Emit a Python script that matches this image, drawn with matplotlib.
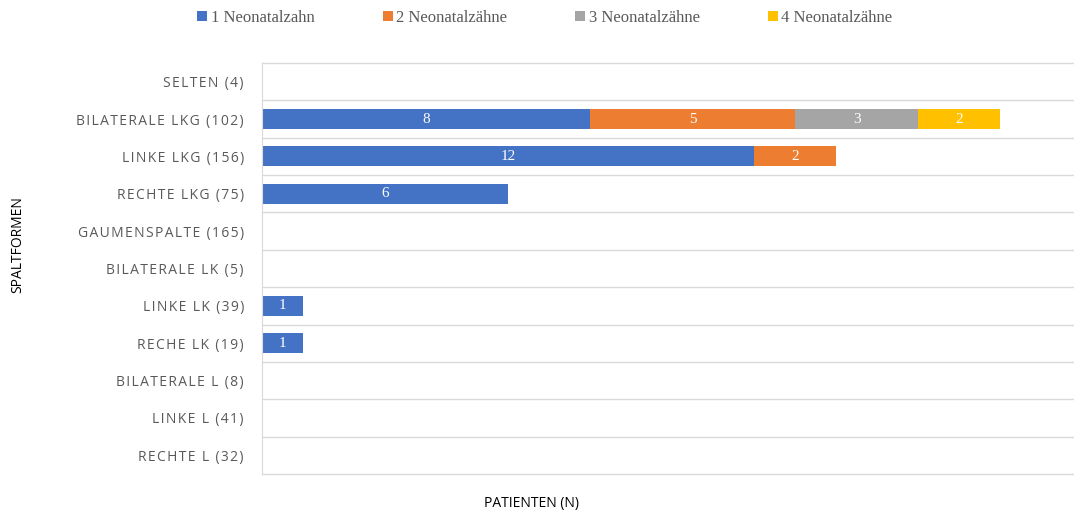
import matplotlib.pyplot as plt
import numpy as np

categories = [
    "SELTEN (4)",
    "BILATERALE LKG (102)",
    "LINKE LKG (156)",
    "RECHTE LKG (75)",
    "GAUMENSPALTE (165)",
    "BILATERALE LK (5)",
    "LINKE LK (39)",
    "RECHE LK (19)",
    "BILATERALE L (8)",
    "LINKE L (41)",
    "RECHTE L (32)",
]
series_names = ["1 Neonatalzahn", "2 Neonatalzähne", "3 Neonatalzähne", "4 Neonatalzähne"]
one_tooth = [0, 8, 12, 6, 0, 0, 1, 1, 0, 0, 0]
two_teeth = [0, 5, 2, 0, 0, 0, 0, 0, 0, 0, 0]
three_teeth = [0, 3, 0, 0, 0, 0, 0, 0, 0, 0, 0]
four_teeth = [0, 2, 0, 0, 0, 0, 0, 0, 0, 0, 0]

colors = ["#4472C4", "#ED7D31", "#A5A5A5", "#FFC000"]
serif = ["Liberation Serif", "DejaVu Serif"]
sans = ["Open Sans", "DejaVu Sans"]


def spaced(text):
    # imitate Excel's letter spacing on the category labels
    return "\u200a".join(text)


fig = plt.figure(figsize=(10.74, 5.14), dpi=100)
ax = fig.add_axes([262 / 1074, 1 - 474 / 514, 1 - 262 / 1074, 411 / 514])

y = np.arange(len(categories))
left = np.zeros(len(categories))
for name, values, color in zip(series_names, [one_tooth, two_teeth, three_teeth, four_teeth], colors):
    values = np.array(values, dtype=float)
    bars = ax.barh(y, values, left=left, height=0.54, color=color, label=name)
    labels = [str(int(v)) if v > 0 else "" for v in values]
    ax.bar_label(bars, labels=labels, label_type="center", color="white",
                 fontsize=11, family=serif)
    left += values

ax.set_xlim(0, 19.8)
ax.set_ylim(len(categories) - 0.5, -0.5)
ax.set_yticks(y)
ax.set_yticklabels([spaced(c) for c in categories], family=sans, fontsize=10, color="#595959")
ax.tick_params(axis="y", length=0, pad=13)
ax.set_xticks([])

# gridlines between categories
for b in np.arange(-0.5, len(categories) + 0.5, 1.0):
    ax.axhline(b, color="#D9D9D9", linewidth=1, zorder=0, clip_on=False)

for side in ["top", "right", "bottom"]:
    ax.spines[side].set_visible(False)
ax.spines["left"].set_color("#D9D9D9")

fig.text(532 / 1074, 1 - 503 / 514, "PATIENTEN (N)", ha="center", va="center",
         family=sans, fontsize=10, color="#000000")
fig.text(18 / 1074, 1 - 245 / 514, "SPALTFORMEN", ha="center", va="center",
         rotation=90, family=sans, fontsize=10, color="#000000")

fig.legend(loc="center", bbox_to_anchor=(545 / 1074, 1 - 18 / 514), ncol=4, frameon=False,
           prop={"family": serif, "size": 12}, labelcolor="#595959",
           handlelength=0.6, handleheight=0.6, handletextpad=0.2, columnspacing=4.1)

fig.savefig("out.png", dpi=100)
